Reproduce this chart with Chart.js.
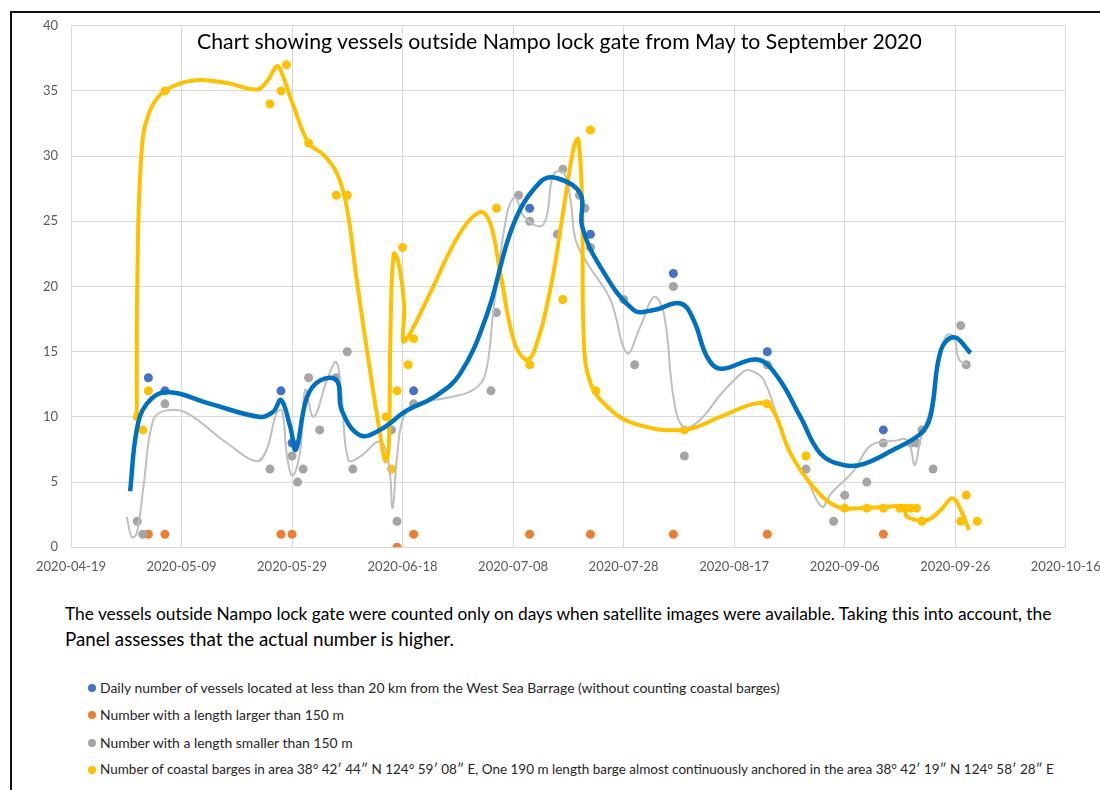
<!DOCTYPE html>
<html>
<head>
<meta charset="utf-8">
<script src="https://cdn.jsdelivr.net/npm/chart.js@4.4.1/dist/chart.umd.min.js"></script>
<style>
  body { margin: 0; background: #fff; font-family: Lato, "Open Sans", sans-serif; }
  #page { position: relative; width: 1100px; height: 790px; overflow: hidden; }
  #frame { position: absolute; left: 10px; top: 11px; width: 1100px; height: 800px;
           border-top: 2px solid #111; border-left: 2px solid #111; }
  #chartBox { position: absolute; left: 0; top: 0; width: 1100px; height: 600px; }
  .txt { position: absolute; white-space: nowrap; line-height: 1; color: #000; }
  #title { font-size: 20px; }
  .note { font-size: 15px; }
  .leg { font-size: 13.5px; color: #262626; }
  .dot { position: absolute; width: 8px; height: 8px; border-radius: 50%; }
</style>
</head>
<body>
<div id="page">
  <div id="frame"></div>
  <div id="chartBox"><canvas id="chart" width="1100" height="600"></canvas></div>
  <div class="txt" id="title" data-x="197" data-cy="42" data-w="725">Chart showing vessels outside Nampo lock gate from May to September 2020</div>
  <div class="txt note" data-x="65" data-cy="614" data-w="987">The vessels outside Nampo lock gate were counted only on days when satellite images were available. Taking this into account, the</div>
  <div class="txt note" data-x="65" data-cy="639" data-w="389">Panel assesses that the actual number is higher.</div>
  <div id="legendBox"></div>
</div>

<script>
// ================= DATA =================
const xTicks = ['2020-04-19', '2020-05-09', '2020-05-29', '2020-06-18', '2020-07-08',
                '2020-07-28', '2020-08-17', '2020-09-06', '2020-09-26', '2020-10-16'];
const yTicks = [0, 5, 10, 15, 20, 25, 30, 35, 40];

const blueDates = ['2020-05-03', '2020-05-06', '2020-05-27', '2020-05-29', '2020-06-20',
                   '2020-07-11', '2020-07-22', '2020-08-06', '2020-08-23', '2020-09-13'];
const blueValues = [13, 12, 12, 8, 12, 26, 24, 21, 15, 9];

const orangeDates = ['2020-05-03', '2020-05-06', '2020-05-27', '2020-05-29', '2020-06-17', '2020-06-20',
                     '2020-07-11', '2020-07-22', '2020-08-06', '2020-08-23', '2020-09-13'];
const orangeValues = [1, 1, 1, 1, 0, 1, 1, 1, 1, 1, 1];

const grayDates = ['2020-05-01', '2020-05-02', '2020-05-06', '2020-05-25', '2020-05-29', '2020-05-30',
                   '2020-05-31', '2020-06-01', '2020-06-03', '2020-06-06', '2020-06-08', '2020-06-09',
                   '2020-06-16', '2020-06-17', '2020-06-20', '2020-07-04', '2020-07-05', '2020-07-09',
                   '2020-07-11', '2020-07-16', '2020-07-17', '2020-07-20', '2020-07-21', '2020-07-22',
                   '2020-07-28', '2020-07-30', '2020-08-06', '2020-08-08', '2020-08-23', '2020-08-30',
                   '2020-09-04', '2020-09-06', '2020-09-10', '2020-09-13', '2020-09-18', '2020-09-19',
                   '2020-09-20', '2020-09-22', '2020-09-27', '2020-09-28'];
const grayValues = [2, 1, 11, 6, 7, 5, 6, 13, 9, 13, 15, 6, 9, 2, 11, 12, 18, 27, 25, 24,
                    29, 27, 26, 23, 19, 14, 20, 7, 14, 6, 2, 4, 5, 8, 8, 8, 9, 6, 17, 14];

const yellowDates = ['2020-05-01', '2020-05-02', '2020-05-03', '2020-05-06', '2020-05-25', '2020-05-27',
                     '2020-05-28', '2020-06-01', '2020-06-06', '2020-06-08', '2020-06-15', '2020-06-16',
                     '2020-06-17', '2020-06-18', '2020-06-19', '2020-06-20', '2020-07-05', '2020-07-11',
                     '2020-07-17', '2020-07-22', '2020-07-23', '2020-08-08', '2020-08-23', '2020-08-30',
                     '2020-09-06', '2020-09-10', '2020-09-13', '2020-09-16', '2020-09-17', '2020-09-18',
                     '2020-09-19', '2020-09-20', '2020-09-27', '2020-09-28', '2020-09-30'];
const yellowValues = [10, 9, 12, 35, 34, 35, 37, 31, 27, 27, 10, 6, 12, 23, 14, 16, 26, 14,
                      19, 32, 12, 9, 11, 7, 3, 3, 3, 3, 3, 3, 3, 2, 2, 4, 2];

// smoothed lines (days after 2020-04-19)
const blueLineDays = [10.7, 11.9, 13.7, 17.3, 25.2, 34.2, 36.6, 38.0, 39.7, 40.7, 42.7, 45.1, 48.1, 49.0,
                      52.3, 55.9, 60.8, 65.6, 70.4, 75.3, 80.1, 84.9, 88.0, 92.2, 92.5, 95.8, 101.8, 105.5,
                      110.3, 112.7, 115.1, 117.5, 124.2, 127.8, 132.0, 135.6, 139.9, 143.5, 148.9, 153.7,
                      155.5, 157.4, 159.8, 162.8];
const blueLineValues = [4.3, 9, 11, 11.9, 11, 10, 10.4, 11.3, 9.2, 7.5, 11.5, 12.8, 12.8, 10.5,
                        8.6, 9.0, 10.5, 11.5, 13.3, 17.9, 24.8, 28.0, 28.3, 27.1, 24.6, 21.5, 18.2, 18.2,
                        18.7, 17.4, 14.6, 13.7, 14.4, 13.1, 10.0, 7.2, 6.3, 6.4, 7.5, 8.7,
                        10.0, 15.1, 16.1, 14.9];

const grayLineDays = [10.1, 11.0, 11.9, 13.1, 14.9, 17.3, 20.9, 28.2, 33.6, 35.4, 37.2, 38.2, 39.1, 40.1,
                      41.5, 42.4, 43.9, 46.3, 48.0, 49.0, 50.2, 52.3, 55.9, 57.5, 58.2, 59.0, 60.2, 62.6,
                      68.6, 72.9, 75.0, 76.5, 78.9, 80.4, 81.9, 84.9, 86.1, 87.3, 89.2, 90.4, 91.3, 93.4,
                      97.6, 100.6, 103.0, 105.5, 107.3, 109.1, 110.9, 113.9, 117.5, 121.2, 122.7, 125.4,
                      129.6, 133.2, 135.9, 137.5, 141.7, 144.7, 149.5, 151.0, 151.9, 152.7, 153.7, 155.6,
                      157.4, 158.6, 159.8, 160.7, 162.2];
const grayLineValues = [2.35, 0.8, 1.07, 4.6, 9.8, 10.5, 10.3, 8.0, 6.6, 7.5, 10.3, 10.5, 6.95, 5.5,
                        7.5, 12.1, 10.0, 12.8, 14.2, 11.5, 6.7, 6.95, 8.1, 6.4, 3.0, 6.95, 10.0, 11.0,
                        11.5, 12.1, 13.3, 18.4, 25.6, 26.8, 25.4, 24.6, 25.4, 28.6, 28.7, 26.6, 23.6, 21.8,
                        19.0, 14.9, 16.9, 19.2, 17.9, 11.3, 9.2, 9.8, 11.7, 13.3, 13.6, 12.8,
                        7.7, 5.2, 3.1, 4.1, 5.9, 7.8, 8.2, 8.3, 7.7, 6.3, 8.2, 10.8,
                        15.1, 16.3, 16.1, 14.4, 14.0];

const yellowLineDays = [11.9, 12.0, 12.8, 14.3, 17.0, 22.1, 28.2, 33.6, 35.4, 37.3, 38.2, 40.3, 43.0, 45.7,
                        48.1, 49.9, 51.7, 54.1, 56.0, 56.9, 57.5, 57.8, 58.4, 59.3, 60.3, 60.1, 61.1, 65.0,
                        70.4, 74.1, 75.9, 77.7, 80.1, 82.2, 83.7, 86.7, 89.2, 91.0, 91.8, 92.5, 92.8, 94.0,
                        97.0, 101.8, 110.9, 117.5, 123.6, 126.6, 130.2, 134.4, 138.7, 142.9, 147.7, 150.7,
                        151.3, 154.9, 157.4, 159.5, 161.0, 162.5];
const yellowLineValues = [10, 20.5, 30.5, 33.5, 35.0, 35.8, 35.6, 35.1, 35.7, 36.9, 36.3, 33.8, 31.0, 30.1,
                          28.7, 26.1, 20.5, 13.6, 8.5, 6.6, 7.7, 16.2, 22.5, 21.8, 18.5, 15.8, 16.2, 19.5,
                          24.1, 25.7, 24.8, 21.0, 15.9, 14.4, 14.9, 19.7, 26.1, 30.7, 31.3, 26.1, 15.9, 12.6,
                          10.8, 9.5, 9.0, 10.0, 11.0, 10.8, 7.2, 4.6, 3.1, 3.0, 3.1, 3.1,
                          2.35, 2.1, 2.86, 3.76, 2.86, 1.33];

const legendLabels = [
    'Daily number of vessels located at less than 20 km from the  West Sea Barrage (without counting coastal barges)',
    'Number with a length larger than 150 m',
    'Number with a length smaller than 150 m',
    'Number of coastal barges in area 38° 42′ 44″ N 124° 59′ 08″ E, One 190 m length barge almost continuously  anchored in the area 38° 42′ 19″ N 124° 58′ 28″ E'
];
const legendColors = ['#4472C4', '#ED7D31', '#A5A5A5', '#FFC000'];

// ================= HELPERS =================
const start = Date.UTC(2020, 3, 19);
const dayOf = s => (Date.parse(s) - start) / 86400000;
const labelOf = v => new Date(start + v * 86400000).toISOString().slice(0, 10);
const pts = (dates, vals) => dates.map((d, i) => ({ x: dayOf(d), y: vals[i] }));
const curve = (days, vals) => days.map((d, i) => ({ x: d, y: vals[i] }));

function dots(label, data, color, order) {
    return { type: 'scatter', label, data, backgroundColor: color, borderWidth: 0,
             pointRadius: 4.5, order };
}
function smooth(label, data, color, width, order) {
    return { type: 'line', label, data, borderColor: color, borderWidth: width, pointRadius: 0,
             tension: 0.4, fill: false, order, borderCapStyle: 'butt' };
}

// ================= CHART =================
const tickFont = { family: 'Lato', size: 13 };

new Chart(document.getElementById('chart'), {
    type: 'scatter',
    data: {
        datasets: [
            smooth('blue line', curve(blueLineDays, blueLineValues), '#0070C0', 4.5, 1),
            smooth('yellow line', curve(yellowLineDays, yellowLineValues), '#FFC000', 4, 2),
            smooth('gray line', curve(grayLineDays, grayLineValues), '#BFBFBF', 2, 3),
            dots(legendLabels[3], pts(yellowDates, yellowValues), legendColors[3], 4),
            dots(legendLabels[2], pts(grayDates, grayValues), legendColors[2], 5),
            dots(legendLabels[1], pts(orangeDates, orangeValues), legendColors[1], 6),
            dots(legendLabels[0], pts(blueDates, blueValues), legendColors[0], 7)
        ]
    },
    options: {
        responsive: false,
        animation: false,
        layout: { padding: { left: 0, right: 34.3, top: 25.7, bottom: 0 } },
        plugins: { legend: { display: false }, tooltip: { enabled: false } },
        scales: {
            x: {
                type: 'linear', min: 0, max: dayOf(xTicks[xTicks.length - 1]),
                afterBuildTicks: s => { s.ticks = xTicks.map(t => ({ value: dayOf(t) })); },
                // keep the plot right edge where it is in the picture (last label may run to the border)
                afterFit: s => { s.height = 52.7; s.paddingRight = 0; s.paddingLeft = 0; },
                grid: { color: '#D9D9D9', drawTicks: false },
                border: { color: '#D9D9D9' },
                ticks: { callback: v => labelOf(v), color: '#595959', font: tickFont,
                         padding: 12, maxRotation: 0, autoSkip: false }
            },
            y: {
                min: yTicks[0], max: yTicks[yTicks.length - 1],
                afterBuildTicks: s => { s.ticks = yTicks.map(v => ({ value: v })); },
                afterFit: s => { s.width = 71; s.paddingTop = 0; s.paddingBottom = 0; },
                grid: { color: '#D9D9D9', drawTicks: false },
                border: { color: '#D9D9D9' },
                ticks: { color: '#595959', font: tickFont, padding: 13 }
            }
        }
    }
});

// ================= TEXT BELOW =================
const legendBox = document.getElementById('legendBox');
const legendY = [688, 715, 743, 770];
const legendW = [680, 244, 253, 955];
legendLabels.forEach((txt, i) => {
    const dot = document.createElement('div');
    dot.className = 'dot';
    dot.style.left = '88px';
    dot.style.top = (legendY[i] - 4) + 'px';
    dot.style.background = legendColors[i];
    legendBox.appendChild(dot);

    const t = document.createElement('div');
    t.className = 'txt leg';
    t.textContent = txt;
    t.dataset.x = 100;
    t.dataset.cy = legendY[i];
    t.dataset.w = legendW[i];
    legendBox.appendChild(t);
});

// squeeze each text line to the width it has in the picture
document.querySelectorAll('.txt').forEach(el => {
    const fs = parseFloat(getComputedStyle(el).fontSize);
    const w = el.getBoundingClientRect().width;
    el.style.fontSize = (fs * el.dataset.w / w) + 'px';
    const h = el.getBoundingClientRect().height;
    el.style.left = el.dataset.x + 'px';
    el.style.top = (el.dataset.cy - h / 2) + 'px';
});
</script>
</body>
</html>
